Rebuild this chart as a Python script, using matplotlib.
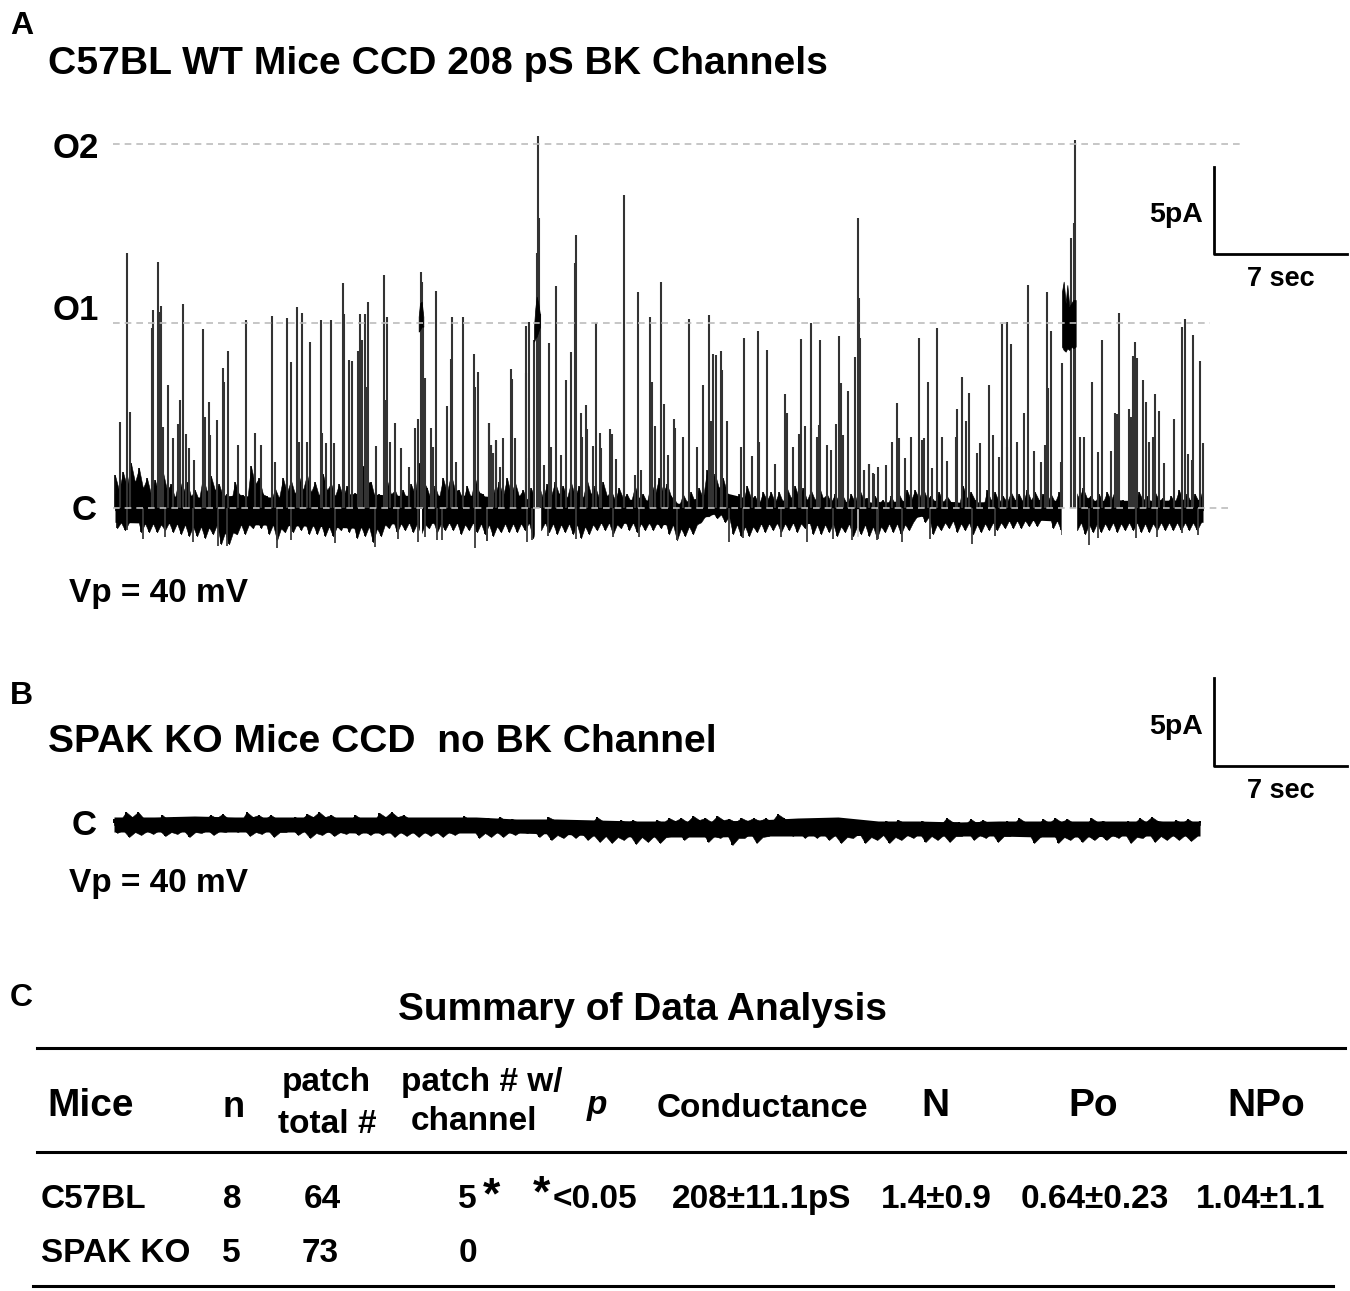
import matplotlib
matplotlib.use("Agg")
import matplotlib.pyplot as plt
import numpy as np
from matplotlib.lines import Line2D

W, H = 1350, 1291
plt.rcParams['font.family'] = ['Liberation Sans', 'DejaVu Sans']
plt.rcParams['font.weight'] = 'bold'

# panel A upward events in three stretches
# position and peak are in zoom units (3 per pixel), C level at 1135
a1_pos = [80, 61, 89, 158, 156, 173, 184, 180, 203, 190, 220, 249, 240, 235, 257, 268, 281, 309, 316, 326, 331, 350, 369, 373, 383, 414, 439, 465, 482, 517, 524, 561, 574, 591, 607, 596, 630, 622, 662, 667, 692, 678, 702, 728, 732, 747, 757, 773, 781, 787, 794, 805, 800, 829, 852, 862, 857, 884, 870, 903, 926, 945, 954, 962, 966, 970, 976, 994, 1008, 1000, 1040, 1053, 1056, 1068, 1090, 1123, 1134, 1126, 1168, 1173, 1189, 1180]
a1_top = [368, 877, 845, 540, 595, 395, 528, 545, 765, 890, 925, 523, 810, 882, 912, 955, 990, 598, 860, 816, 915, 870, 714, 757, 663, 945, 571, 908, 945, 557, 995, 565, 695, 532, 550, 935, 637, 935, 570, 908, 570, 940, 938, 458, 553, 691, 694, 663, 553, 630, 553, 515, 770, 948, 434, 562, 810, 880, 935, 955, 1012, 895, 867, 427, 455, 588, 745, 895, 483, 950, 828, 687, 560, 995, 562, 672, 725, 770, 880, 945, 930, 970]
a2_pos = [28, 33, 40, 48, 70, 60, 94, 97, 106, 138, 148, 137, 146, 162, 170, 175, 176, 180, 193, 207, 214, 229, 242, 259, 274, 288, 286, 302, 305, 317, 322, 340, 348, 360, 364, 390, 397, 409, 431, 433, 465, 475, 482, 510, 517, 525, 543, 551, 565, 581, 584, 608, 626, 652, 670, 686, 693, 700, 707, 723, 727, 740, 783, 793, 815, 834, 838, 860, 884, 915, 922, 939, 958, 964, 974, 994, 993, 1010, 1020, 1017, 1040, 1052, 1067, 1077, 1083, 1090, 1104, 1126, 1133, 1136, 1140, 1152, 1166, 1180]
a2_top = [880, 945, 968, 932, 925, 1010, 716, 748, 925, 588, 577, 730, 985, 630, 368, 18, 265, 552, 1005, 638, 950, 467, 975, 750, 666, 316, 400, 850, 920, 825, 897, 948, 580, 908, 955, 897, 912, 988, 630, 196, 1035, 487, 1020, 560, 757, 887, 455, 822, 975, 868, 895, 920, 568, 950, 765, 555, 872, 673, 676, 662, 720, 873, 950, 625, 978, 602, 935, 660, 1003, 792, 850, 952, 912, 626, 887, 578, 895, 920, 631, 885, 945, 960, 882, 617, 760, 915, 782, 680, 263, 505, 625, 1020, 1003, 1030]
a3_pos = [43, 56, 71, 85, 108, 127, 140, 146, 165, 184, 206, 215, 222, 234, 247, 261, 275, 292, 320, 318, 336, 347, 357, 380, 390, 418, 429, 455, 447, 471, 484, 470, 501, 521, 533, 551, 574, 584, 590, 594, 603, 632, 636, 663, 675, 673, 689, 701, 727, 743, 755, 782, 794, 802, 808, 838, 844, 850, 856, 861, 880, 887, 898, 910, 914, 927, 942, 973, 996, 1004, 1014, 1030, 1027, 1049, 1059]
a3_top = [1020, 1003, 1033, 1012, 1005, 935, 818, 925, 985, 920, 625, 930, 925, 757, 1015, 594, 920, 992, 838, 920, 741, 872, 788, 970, 940, 765, 915, 582, 980, 575, 641, 950, 937, 848, 466, 962, 995, 945, 487, 775, 602, 995, 700, 323, 30, 280, 920, 920, 755, 965, 630, 963, 850, 852, 550, 838, 862, 678, 635, 685, 750, 815, 935, 920, 792, 842, 1000, 867, 590, 567, 973, 614, 990, 692, 940]

# downward excursions, same units
a1_down_pos = [80, 130, 195, 280, 355, 380, 530, 573, 705, 825, 895, 953, 975, 1012, 1025, 1126, 1160]
a1_down = [1200, 1228, 1222, 1235, 1248, 1248, 1255, 1230, 1240, 1250, 1228, 1235, 1220, 1230, 1230, 1255, 1232]
a2_down_pos = [20, 140, 155, 205, 288, 400, 476, 590, 748, 790, 902, 980, 1058, 1115, 1195]
a2_down = [1232, 1237, 1230, 1218, 1228, 1222, 1222, 1230, 1237, 1225, 1220, 1235, 1228, 1230, 1228]
a3_down_pos = [80, 155, 240, 365, 435, 635, 717, 745, 858, 920, 995, 1045]
a3_down = [1230, 1235, 1228, 1243, 1218, 1215, 1245, 1225, 1225, 1220, 1210, 1215]

# noise around C in panel A, heights in px from the C level
# tips every 8 px, shorter teeth in between
band_up = [33, 36, 45, 40, 30, 28, 36, 24, 30, 26, 18, 32, 32, 24, 14, 26, 13, 42, 30, 12, 20, 30, 28, 32, 34, 26, 34, 25, 24, 22, 15, 42, 26, 14, 28, 18, 18, 24, 45, 20, 22, 30, 34, 18, 22, 30, 14, 28, 26,
           30, 26, 18, 20, 22, 24, 26, 22, 26, 22, 28, 22, 26, 18, 20, 14, 22, 14, 26, 30, 24, 8, 14, 16, 20, 38, 34, 30, 8, 14, 22, 12, 16, 16, 16, 20, 22, 20, 18, 22, 14, 14, 12, 14, 20, 10, 12,
           8, 12, 14, 18, 18, 20, 12, 16, 12, 6, 22, 16, 4, 18, 16, 12, 16, 14, 18, 16, 14, 14, 16, 16, 18, 20, 12, 14, 16, 18, 8, 12, 16, 12, 16, 10, 12, 18, 14, 14, 20]
band_down = [20, 22, 10, 24, 24, 24, 22, 24, 26, 28, 28, 30, 26, 36, 36, 26, 26, 20, 20, 26, 32, 24, 24, 22, 26, 26, 28, 28, 22, 24, 30, 28, 34, 28, 20, 24, 22, 24, 26, 20, 24, 22, 22, 26, 22, 24, 26, 28, 24,
             24, 24, 22, 30, 22, 24, 26, 24, 26, 30, 26, 22, 22, 26, 20, 22, 24, 22, 22, 20, 26, 32, 28, 26, 14, 8, 10, 14, 26, 28, 28, 24, 24, 22, 24, 22, 24, 20, 26, 26, 24, 28, 24, 28, 26, 28, 30,
             24, 24, 26, 22, 8, 14, 26, 22, 20, 24, 22, 26, 24, 22, 22, 20, 20, 20, 18, 18, 10, 20, 22, 22, 22, 26, 24, 24, 22, 24, 22, 22, 24, 24, 22, 22, 22, 22, 22, 22, 22]
core_up = [18, 22, 26, 20, 14, 14, 18, 10, 16, 12,
           8, 16, 18, 12, 6, 14, 6, 24, 14, 6,
           10, 16, 14, 18, 16, 12, 18, 12, 12, 10,
           6, 26, 10, 6, 14, 8, 8, 14, 28, 8,
           10, 16, 18, 8, 10, 16, 6, 14, 12, 14,
           12, 8, 10, 10, 12, 14, 10, 12, 10, 14,
           10, 12, 8, 10, 6, 10, 6, 14, 16, 12,
           2, 6, 6, 10, 26, 20, 16, 2, 6, 10,
           4, 8, 6, 6, 10, 10, 8, 8, 10, 6,
           6, 4, 6, 10, 4, 6, 2, 4, 6, 8,
           10, 10, 6, 6, 6, 2, 10, 8, 0, 8,
           6, 6, 8, 6, 8, 8, 6, 6, 8, 8,
           10, 10, 6, 6, 8, 8, 2, 4, 8, 6,
           8, 4, 6, 8, 6, 6]
core_down = [14, 14, 6, 15, 15, 16, 14, 15, 16, 18,
             18, 19, 16, 24, 24, 16, 16, 12, 12, 16,
             20, 15, 15, 14, 16, 16, 18, 18, 14, 15,
             18, 18, 20, 16, 12, 15, 14, 15, 16, 12,
             15, 14, 14, 16, 14, 15, 16, 18, 15, 15,
             15, 14, 18, 14, 15, 16, 15, 16, 18, 16,
             14, 14, 16, 12, 14, 15, 14, 14, 12, 16,
             20, 18, 16, 8, 4, 6, 8, 16, 18, 18,
             15, 15, 14, 15, 14, 15, 12, 16, 16, 15,
             18, 15, 18, 16, 18, 18, 15, 15, 16, 14,
             4, 8, 16, 14, 12, 15, 14, 16, 15, 14,
             14, 12, 12, 12, 11, 11, 5, 12, 14, 14,
             14, 16, 15, 15, 14, 15, 14, 14, 15, 15,
             14, 14, 14, 14, 14, 14]
# solid part of the band, every 40 px or so
solid_up = [15, 13, 11, 13, 11, 11, 15, 13, 13, 13, 9, 11, 9, 9, 5, 17, 7, 9, 7, 6, 9, 6, 7, 8, 8, 8, 8, 9]
solid_down = [14, 15, 16, 16, 17, 18, 20, 15, 15, 15, 15, 15, 15, 15, 17, 4, 16, 15, 16, 17, 8, 14, 13, 12, 14, 13, 13, 14]

# sustained openings near O1 (zoom units again)
burst1_pos = [956, 960, 965, 970]
burst1_top = [560, 520, 515, 560]
burst1_bot = [605, 600, 590, 590]
burst2_pos = [162, 166, 170, 175, 180]
burst2_top = [590, 535, 500, 520, 555]
burst2_bot = [635, 625, 620, 605, 590]
burst3_pos = [636, 641, 647, 652, 658, 664, 670, 677]
burst3_top = [485, 455, 520, 465, 530, 520, 510, 510]
burst3_bot = [650, 660, 665, 655, 660, 650, 655, 650]

# panel B trace, tips every 12 px and shorter teeth between them
b_up = [4, 11, 11, 3, 8, 6, 3, 5, 8, 9, 5, 11, 8, 8, 5, 6, 9, 11, 8, 5, 8, 5, 10, 11, 8, 0, 5, 5, 5, 7, 0, 5, 6, 4, -1, 1, 6, 3, 1, 1, 6, -1, 3, 3, 1,
        3, 5, 5, 7, 5, 7, 4, 5, 5, 5, 9, 1, 0, 0, 3, 3, -1, 0, 1, 2, 3, 1, 2, 1, 5, 1, 4, 3, 1, 2, 5, 1, 4, 5, 4, 0, 5, 2, 1, 2, 5, 6, 1, 3, 4, 2]
b_down = [10, 14, 12, 11, 13, 11, 14, 10, 12, 9, 9, 13, 11, 14, 9, 12, 15, 12, 13, 11, 12, 12, 12, 14, 13, 14, 13, 14, 12, 9, 15, 14, 14, 12, 10, 14, 17, 15, 15, 17, 19, 20, 17, 21, 19,
          20, 13, 17, 13, 19, 15, 22, 15, 20, 13, 11, 13, 15, 15, 17, 20, 15, 20, 17, 20, 17, 15, 19, 17, 19, 13, 17, 15, 19, 13, 13, 20, 11, 20, 17, 19, 17, 17, 15, 20, 15, 19, 17, 17, 18, 19]
b_core_up = [2, 6, 4, 0, 3, 2, 0, 3, 5, 4, 1, 6, 4, 4, 2, 3, 6, 6, 4, 2, 4, 1, 6, 6, 4, -2, 2, 2, 1, 3, -2, 2, 2, 1, -3, -2, 3, 0, -2, -2, 2, -3, 0, 0, -2,
             0, 2, 1, 3, 1, 3, 1, 2, 2, 1, 5, -2, -3, -3, 0, 0, -3, -3, -1, -1, 0, -2, -1, -2, 1, -2, 0, 0, -2, -2, 1, -2, 0, 1, 0, -3, 1, -1, -2, -1, 1, 2, -2, 0, 0]
b_core_down = [7, 9, 8, 7, 9, 7, 9, 7, 8, 6, 6, 9, 7, 9, 6, 8, 10, 8, 9, 7, 8, 8, 8, 9, 9, 9, 9, 9, 8, 6, 10, 9, 9, 8, 7, 9, 12, 10, 10, 12, 13, 14, 12, 14, 13,
               14, 9, 12, 9, 13, 10, 15, 10, 14, 9, 8, 9, 10, 10, 12, 14, 10, 14, 12, 14, 12, 10, 13, 12, 13, 9, 12, 10, 13, 9, 9, 14, 8, 14, 12, 13, 12, 12, 10, 14, 10, 13, 12, 12, 13]
b_solid_up = [6, 6, 7, 6, 6, 6, 6, 6, 6, 6, 4, 4, 3, 2, 2, 2, 3, 5, 6, 2, 2, 1, 2, 2, 2, 2, 2, 2]
b_solid_down = [9, 9, 9, 9, 9, 9, 10, 10, 10, 10, 10, 11, 13, 14, 14, 14, 13, 13, 13, 12, 13, 13, 13, 14, 14, 13, 13, 13]

# summary table
columns = ["n", "patch\ntotal #", "patch # w/\nchannel", "Conductance", "N", "Po", "NPo"]
mice = ["C57BL", "SPAK KO"]
n_mice = [8, 5]
patch_total = [64, 73]
patch_channel = [5, 0]
conductance = "208±11.1pS"
n_channels = "1.4±0.9"
po = "0.64±0.23"
npo = "1.04±1.1"
p_value = "<0.05"


def fx(x):
    return x / W


def fy(y):
    return 1 - y / H


def txt(x, y, s, size, ha='left', **kw):
    fig.text(fx(x), fy(y + 2.5), s, fontsize=size, ha=ha, va='center', **kw)


def rule(xs, ys, lw=2.0, color='black', **kw):
    fig.add_artist(Line2D([fx(x) for x in xs], [fy(y) for y in ys], lw=lw, color=color, **kw))


def level_axes(c_y):
    ax = fig.add_axes([0, 0, 1, 1], facecolor='none')
    ax.set_xlim(0, W)
    ax.set_ylim(c_y - H, c_y)
    ax.axis('off')
    return ax


def conv(pos, vals, offset):
    return np.array(pos) / 3 + offset, (1135 - np.array(vals)) / 3


def zigzag(tips, core):
    # tips and core alternate along the trace
    out = np.empty(len(tips) + len(core))
    out[0::2] = tips
    out[1::2] = core
    return out


def noise(ax, x0, x1, up, down, solid_hi, solid_lo, lw):
    # solid middle, jagged edges and sharp teeth on either side
    up = np.array(up)
    down = np.array(down)
    ax.fill_between(np.linspace(x0, x1, len(solid_hi)), solid_hi, -np.array(solid_lo), color='black', lw=0)
    x = np.linspace(x0, x1, len(up))
    low_x = x[:-1] + (x[1] - x[0]) / 2
    ax.fill_between(x, -2, up, color='black', lw=0.4, zorder=1)
    ax.fill_between(low_x, -2, -down[:-1], color='black', lw=0.4, zorder=1)
    ax.vlines(x, 0, up, color='black', lw=lw, zorder=1)
    ax.vlines(low_x, -2, -down[:-1], color='black', lw=lw, zorder=1)


fig = plt.figure(figsize=(13.5, 12.91), dpi=100, facecolor='white')

# panel A trace
ax_a = level_axes(508.3)
noise(ax_a, 115, 1203, zigzag(band_up, core_up), zigzag(band_down, core_down), solid_up, solid_down, 1.2)
for left, right in [(534.5, 539.5), (1061.5, 1076)]:
    ax_a.axvspan(left, right, color='white', zorder=2, ymin=0.3)
ax_a.axvline(421, ymin=0.583, ymax=0.605, color='white', lw=1.5, zorder=2)
ax_a.axvline(858, ymin=0.585, ymax=0.605, color='#cccccc', lw=1.2, zorder=2)
for pos, top, off in [(a1_pos, a1_top, 100), (a2_pos, a2_top, 480), (a3_pos, a3_top, 850)]:
    x, amp = conv(pos, top, off)
    ax_a.vlines(x, 0, amp, color='#333333', lw=1.5, zorder=3)
for pos, bot, off in [(a1_down_pos, a1_down, 100), (a2_down_pos, a2_down, 480), (a3_down_pos, a3_down, 850)]:
    x, amp = conv(pos, bot, off)
    ax_a.vlines(x, 0, amp, color='#3a3a3a', lw=1.3, zorder=1)
for pos, top, bot, off in [(burst1_pos, burst1_top, burst1_bot, 100),
                           (burst2_pos, burst2_top, burst2_bot, 480),
                           (burst3_pos, burst3_top, burst3_bot, 850)]:
    x, up = conv(pos, top, off)
    _, low = conv(pos, bot, off)
    ax_a.fill_between(x, low, up, color='black', lw=0.5, zorder=3)

# channel levels
for amp, x0, x1 in [(364.5, 113, 1243), (185.3, 113, 1210), (0, 113, 1230)]:
    ax_a.plot([x0, x1], [amp, amp], color='#bcbcbc', lw=1.2, ls=(0, (4, 3)), zorder=4)

# panel B trace
ax_b = level_axes(823)
noise(ax_b, 114, 1200, zigzag(b_up, b_core_up), zigzag(b_down, b_core_down), b_solid_up, b_solid_down, 1.4)

# scale bars
for top, corner in [(167, 254), (678, 766)]:
    rule([1214, 1214, 1347], [top, corner, corner], lw=2.0)
    txt(1203, (top + corner) / 2 + 2, "5pA", 20.5, ha='right')
    txt(1281, corner + 23, "7 sec", 19.5, ha='center')

# panel labels and titles
txt(10, 24, "A", 23)
txt(10, 693, "B", 23)
txt(10, 996, "C", 23)
txt(48, 62, "C57BL WT Mice CCD 208 pS BK Channels", 28.2)
txt(48, 740, "SPAK KO Mice CCD  no BK Channel", 28.1)
txt(53, 146, "O2", 25)
txt(53, 308, "O1", 25)
txt(72, 508, "C", 25)
txt(69, 591, "Vp = 40 mV", 24)
txt(72, 823, "C", 25)
txt(69, 881, "Vp = 40 mV", 24)

# panel C table
txt(642, 1007, "Summary of Data Analysis", 28, ha='center')
rule([37, 1345], [1048, 1048], lw=2.2)
rule([37, 1345], [1152, 1152], lw=2.2)
rule([33, 1333], [1286, 1286], lw=2.2)

txt(47, 1104, "Mice", 28)
txt(234, 1105, columns[0], 26, ha='center')
txt(326, 1080, columns[1].split("\n")[0], 24, ha='center')
txt(327, 1122, columns[1].split("\n")[1], 24, ha='center')
txt(482, 1080, columns[2].split("\n")[0], 24, ha='center')
txt(474, 1119, columns[2].split("\n")[1], 24, ha='center')
txt(597, 1103, "p", 24, ha='center', style='italic')
txt(762, 1106, columns[3], 24, ha='center')
txt(935, 1104, columns[4], 28, ha='center')
txt(1093, 1104, columns[5], 28, ha='center')
txt(1266, 1104, columns[6], 28, ha='center')

for name, n_val, total, chan, y, xn, xt, xc in zip(mice, n_mice, patch_total, patch_channel,
                                                   [1197, 1251], [232, 231], [322, 320], [467, 468]):
    txt(41, y, name, 24)
    txt(xn, y, str(n_val), 24, ha='center')
    txt(xt, y, str(total), 24, ha='center')
    txt(xc, y, str(chan), 24, ha='center')
txt(491, 1194, "*", 32, ha='center')
txt(541, 1192, "*", 32, ha='center')
txt(595, 1197, p_value, 24, ha='center')
txt(762, 1197, conductance, 24, ha='center')
txt(936, 1197, n_channels, 24, ha='center')
txt(1095, 1197, po, 24, ha='center')
txt(1261, 1197, npo, 24, ha='center')

fig.savefig("out.png", dpi=100)
